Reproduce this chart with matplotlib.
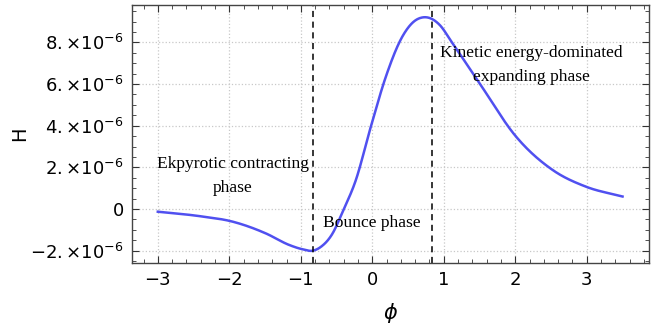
import numpy as np
import matplotlib
matplotlib.use("Agg")
import matplotlib.pyplot as plt
from matplotlib.ticker import MultipleLocator

# values (phi, H in units of 1e-6)
phi = [-3.0, -2.42, -1.95, -1.49, -1.16, -0.98, -0.83, -0.72, -0.555, -0.415,
       -0.23, -0.02, 0.19, 0.42, 0.58, 0.70, 0.82, 0.94, 1.12, 1.5, 2.01, 2.52, 2.99, 3.5]
H = [-0.13, -0.34, -0.61, -1.17, -1.73, -1.93, -2.0, -1.82, -1.17, -0.13,
     1.39, 3.96, 6.36, 8.28, 9.0, 9.2, 9.15, 8.85, 7.97, 6.04, 3.48, 1.88, 1.07, 0.6]
phase_bounds = [-0.83, 0.83]
yticks = [-2, 0, 2, 4, 6, 8]
ytick_labels = [r"$-2.{\times}10^{-6}$", "0", r"$2.{\times}10^{-6}$", r"$4.{\times}10^{-6}$",
                r"$6.{\times}10^{-6}$", r"$8.{\times}10^{-6}$"]
xticks = [-3, -2, -1, 0, 1, 2, 3]
xtick_labels = ["\u22123", "\u22122", "\u22121", "0", "1", "2", "3"]

# cubic Hermite through the read points, slopes from neighbouring differences
p = np.array(phi)
h = np.array(H)
d = np.diff(h) / np.diff(p)
m = np.empty_like(h)
m[0], m[-1] = d[0], d[-1]
dp = np.diff(p)
m[1:-1] = (d[:-1] * dp[1:] + d[1:] * dp[:-1]) / (dp[:-1] + dp[1:])
xs, ys = [], []
for i in range(len(p) - 1):
    t = np.linspace(0, 1, 30, endpoint=False)
    w = dp[i]
    y = ((2 * t**3 - 3 * t**2 + 1) * h[i] + (t**3 - 2 * t**2 + t) * w * m[i]
         + (-2 * t**3 + 3 * t**2) * h[i + 1] + (t**3 - t**2) * w * m[i + 1])
    xs.append(p[i] + t * w)
    ys.append(y)
xs = np.concatenate(xs + [[p[-1]]])
ys = np.concatenate(ys + [[h[-1]]])

fig = plt.figure(figsize=(6.67, 3.31), dpi=100)
ax = fig.add_axes([0.198, 0.205, 0.775, 0.78])

ax.plot(xs, ys, color="#5050f0", lw=1.8)
for b in phase_bounds:
    ax.axvline(b, color="black", ls=(0, (4, 3)), lw=1.1)

ax.set_xlim(-3.36, 3.87)
ax.set_ylim(-2.6, 9.8)

ax.set_xticks(xticks)
ax.set_xticklabels(xtick_labels)
ax.set_yticks(yticks)
ax.set_yticklabels(ytick_labels)
ax.xaxis.set_minor_locator(MultipleLocator(0.2))
ax.yaxis.set_minor_locator(MultipleLocator(0.5))
ax.tick_params(which="both", direction="in", top=True, right=True, color="#333333",
               labelsize=13)
ax.tick_params(which="major", length=5, width=0.8, pad=6)
ax.tick_params(which="minor", length=3, width=0.6)
for s in ax.spines.values():
    s.set_color("#444444")
    s.set_linewidth(1.0)
ax.grid(True, which="major", color="#c8c8c8", ls=":", lw=0.9)

ax.set_xlabel(r"$\phi$", fontsize=15, labelpad=8)
ax.set_ylabel("H", fontsize=14)
ax.yaxis.set_label_coords(-0.20, 0.5)

serif = dict(family="Liberation Serif", fontsize=12.6, ha="center", va="center",
             linespacing=1.66)
ax.text(-1.95, 1.6, "Ekpyrotic contracting\nphase", **serif)
ax.text(0.0, -0.67, "Bounce phase", **serif)
ax.text(2.23, 6.9, "Kinetic energy-dominated\nexpanding phase", **serif)

fig.savefig("out.png", dpi=100)
